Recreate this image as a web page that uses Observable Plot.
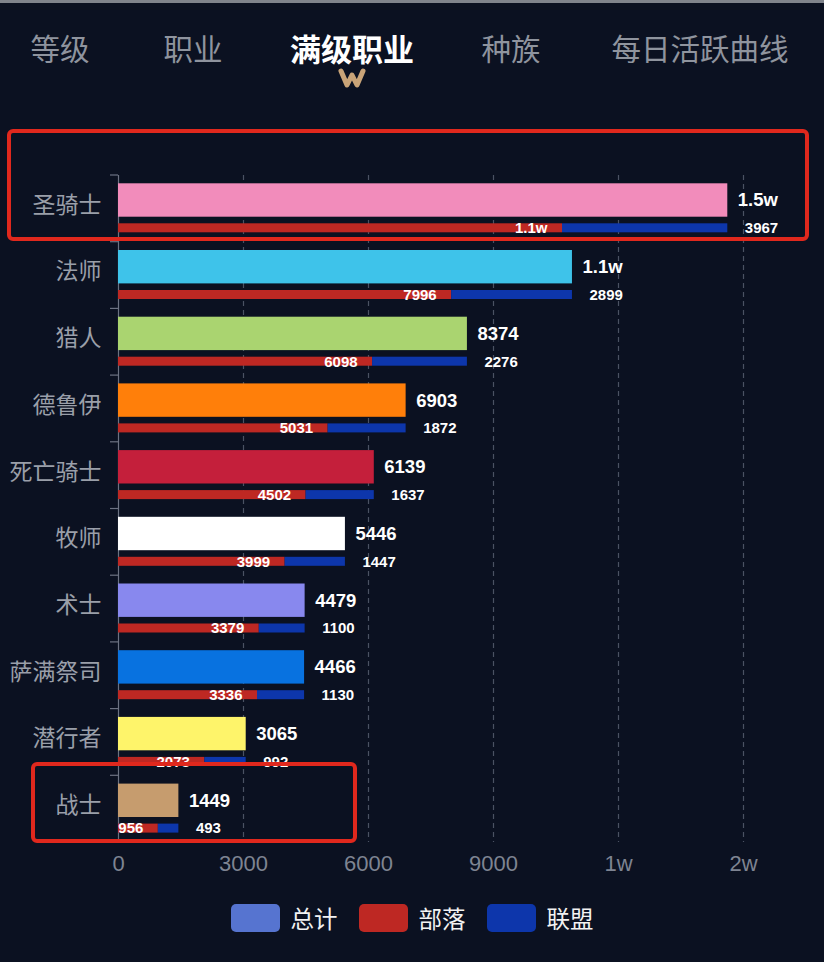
<!DOCTYPE html>
<html><head><meta charset="utf-8">
<script src="https://cdn.jsdelivr.net/npm/d3@7"></script>
<script src="https://cdn.jsdelivr.net/npm/@observablehq/plot@0.6"></script>
<style>
html,body{margin:0;padding:0;background:#0b1121;}
#page{position:relative;width:824px;height:962px;background:#0b1121;overflow:hidden;font-family:"Noto Sans CJK SC","Noto Sans",sans-serif;}
#topline{position:absolute;left:0;top:0;width:824px;height:3px;background:#80848c;}
#tabs{position:relative;height:100px;}
.tab{position:absolute;top:47px;transform:translate(-50%,-50%);color:#8f949e;font-size:29.5px;white-space:nowrap;}
.tab.active{color:#fff;font-weight:bold;font-size:31px;}
#wicon{position:absolute;left:337px;top:67px;}
#legend{display:flex;justify-content:center;align-items:center;height:56px;}
.li{display:flex;align-items:center;margin:0 10.5px;}
.sw{width:49px;height:28px;border-radius:5px;margin-right:11px;}
.lt{color:#f2f2f2;font-size:23.5px;}
.box{position:absolute;border:4px solid #e0281d;border-radius:6px;box-sizing:border-box;pointer-events:none;}
svg{display:block;}
</style></head>
<body>
<div id="page">
  <div id="topline"></div>
  <div id="tabs"></div>
  <div id="chart"></div>
  <div id="legend"></div>
</div>
<script>
const tabs = ["等级","职业","满级职业","种族","每日活跃曲线"];
const activeTab = "满级职业";
const classes = ["圣骑士","法师","猎人","德鲁伊","死亡骑士","牧师","术士","萨满祭司","潜行者","战士"];
const horde = [10656, 7996, 6098, 5031, 4502, 3999, 3379, 3336, 2073, 956];
const alliance = [3967, 2899, 2276, 1872, 1637, 1447, 1100, 1130, 992, 493];
const total = [14623, 10895, 8374, 6903, 6139, 5446, 4479, 4466, 3065, 1449];
const classColors = ["#f28cbb","#3ec3ea","#aad470","#ff7f0a","#c41f3b","#ffffff","#8888ee","#0872e0","#fef46a","#c69c6e"];
const xTicks = [0, 3000, 6000, 9000, 12000, 15000];
const seriesNames = ["总计","部落","联盟"];
const seriesColors = ["#5674d0","#be2823","#0d36ab"];

// tabs
const tabCenters = [60, 193, 352, 511, 700];
const tabsDiv = document.getElementById("tabs");
tabs.forEach((t, i) => {
  const s = document.createElement("div");
  s.className = "tab" + (t === activeTab ? " active" : "");
  s.style.left = tabCenters[i] + "px";
  s.textContent = t;
  tabsDiv.appendChild(s);
});
tabsDiv.insertAdjacentHTML("beforeend",
  '<svg id="wicon" width="30" height="22"><polyline points="4,4 10,18 15,8 20,18 26,4" fill="none" stroke="#c9a478" stroke-width="5" stroke-linecap="round" stroke-linejoin="round"/></svg>');

const rows = classes.map((c, i) => ({cls: c, horde: horde[i], alliance: alliance[i], total: total[i], color: classColors[i]}));
const fmtVal = v => v >= 10000 ? (v / 10000).toFixed(1) + "w" : String(v);
const fmtTick = v => v >= 10000 ? Math.round(v / 10000) + "w" : String(v);

const marginTop = 75, marginBottom = 48, H = 790;
const band = (H - marginTop - marginBottom) / classes.length;
const mainTop = 8.3, mainBottom = 41.7, subTop = 48.3, subBottom = 57.3;

const chart = Plot.plot({
  width: 824,
  height: H,
  marginLeft: 118,
  marginRight: 81,
  marginTop,
  marginBottom,
  style: {background: "transparent", color: "#8d929c", fontFamily: "'Liberation Sans','Noto Sans CJK SC',sans-serif"},
  x: {domain: [0, 15000], axis: null},
  y: {domain: classes, padding: 0, round: false, axis: null},
  color: {type: "identity"},
  marks: [
    Plot.ruleX(xTicks.filter(d => d > 0), {stroke: "#4b5263", strokeDasharray: "5,4", strokeWidth: 1.2}),
    Plot.ruleX([0], {stroke: "#6c7282", strokeWidth: 1.2}),
    (index, scales, values, dims) => {
      const g = d3.create("svg:g").attr("stroke", "#6c7282").attr("stroke-width", 1.2);
      const step = (dims.height - dims.marginTop - dims.marginBottom) / classes.length;
      for (let i = 0; i <= classes.length; i++) {
        const yy = dims.marginTop + i * step;
        g.append("line").attr("x1", dims.marginLeft - 8).attr("x2", dims.marginLeft).attr("y1", yy).attr("y2", yy);
      }
      return g.node();
    },
    Plot.axisY({tickSize: 0, tickPadding: 17, dy: -3.5, fontSize: 23, fill: "#9a9fa9", label: null, fontFamily: "'Noto Sans CJK SC',sans-serif"}),
    Plot.axisX({ticks: xTicks, tickFormat: fmtTick, tickSize: 0, tickPadding: 13, fontSize: 22, fill: "#7e8492", label: null}),
    Plot.barX(rows, {x: "total", y: "cls", fill: "color", insetTop: mainTop, insetBottom: band - mainBottom}),
    Plot.barX(rows, {x1: 0, x2: "horde", y: "cls", fill: seriesColors[1], insetTop: subTop, insetBottom: band - subBottom}),
    Plot.barX(rows, {x1: "horde", x2: "total", y: "cls", fill: seriesColors[2], insetTop: subTop, insetBottom: band - subBottom}),
    Plot.text(rows, {x: "total", y: "cls", text: d => fmtVal(d.total), dx: 10, dy: (mainTop + mainBottom) / 2 - band / 2, textAnchor: "start", fill: "#ffffff", fontWeight: "bold", fontSize: 18.5}),
    Plot.text(rows, {x: "horde", y: "cls", text: d => fmtVal(d.horde), dx: -15, dy: (subTop + subBottom) / 2 - band / 2, textAnchor: "end", fill: "#ffffff", fontWeight: "bold", fontSize: 15}),
    Plot.text(rows, {x: "total", y: "cls", text: d => fmtVal(d.alliance), dx: 17, dy: (subTop + subBottom) / 2 - band / 2, textAnchor: "start", fill: "#ffffff", fontWeight: "bold", fontSize: 15})
  ]
});
document.getElementById("chart").appendChild(chart);

// legend
const leg = document.getElementById("legend");
seriesNames.forEach((n, i) => {
  const d = document.createElement("div");
  d.className = "li";
  d.innerHTML = `<div class="sw" style="background:${seriesColors[i]}"></div><span class="lt">${n}</span>`;
  leg.appendChild(d);
});

// highlight boxes
const page = document.getElementById("page");
[[7, 129, 802, 112], [31, 762, 326, 81]].forEach(([l, t, w, h]) => {
  const b = document.createElement("div");
  b.className = "box";
  Object.assign(b.style, {left: l + "px", top: t + "px", width: w + "px", height: h + "px"});
  page.appendChild(b);
});
</script>
</body></html>
